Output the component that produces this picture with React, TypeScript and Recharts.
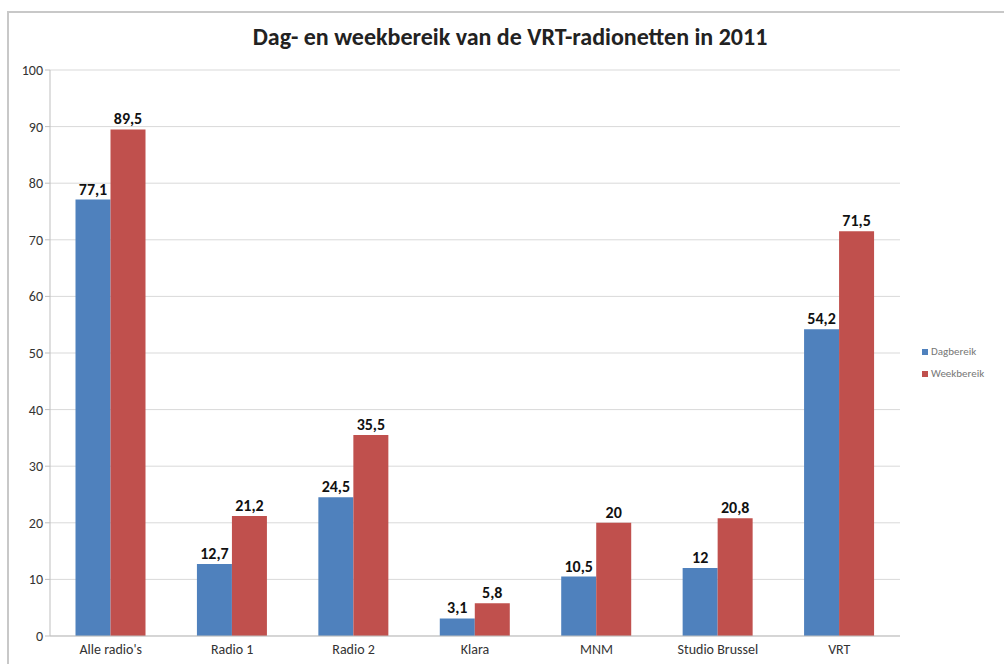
import { Bar, BarChart, CartesianGrid, LabelList, XAxis, YAxis } from 'recharts';

const categories = ["Alle radio's", 'Radio 1', 'Radio 2', 'Klara', 'MNM', 'Studio Brussel', 'VRT'];
const dagbereik = [77.1, 12.7, 24.5, 3.1, 10.5, 12, 54.2];
const weekbereik = [89.5, 21.2, 35.5, 5.8, 20, 20.8, 71.5];
const yTicks = [0, 10, 20, 30, 40, 50, 60, 70, 80, 90, 100];

const data = categories.map((name, i) => ({ name, dag: dagbereik[i], week: weekbereik[i] }));

const fmt = (v: unknown) => String(v).replace('.', ',');

const font = 'Carlito, "Open Sans", "Noto Sans", sans-serif';

const series = [
  { key: 'dag', name: 'Dagbereik', color: '#4f81bd' },
  { key: 'week', name: 'Weekbereik', color: '#c0504d' },
];

export default function App() {
  return (
    <div style={{ position: 'absolute', left: 0, top: 0, width: 1004, height: 664, background: '#fff', fontFamily: font }}>
      <div
        style={{
          position: 'absolute',
          left: 7,
          top: 11,
          right: 0,
          bottom: 0,
          borderLeft: '2px solid #c8c8c8',
          borderTop: '2px solid #c8c8c8',
        }}
      />
      <div
        style={{
          position: 'absolute',
          left: 0,
          width: 1020,
          top: 22,
          textAlign: 'center',
          fontSize: 24,
          fontWeight: 700,
          color: '#222',
        }}
      >
        Dag- en weekbereik van de VRT-radionetten in 2011
      </div>
      <BarChart
        width={1004}
        height={664}
        data={data}
        barCategoryGap="21%"
        barGap={0}
        margin={{ top: 70, right: 104, left: 10, bottom: 0 }}
        style={{ position: 'absolute', left: 0, top: 0 }}
      >
        <CartesianGrid vertical={false} stroke="#d9d9d9" />
        <XAxis
          dataKey="name"
          height={28}
          stroke="#bfbfbf"
          tickLine={false}
          tick={{ fontSize: 14, fill: '#333', fontFamily: font }}
          interval={0}
        />
        <YAxis
          width={40}
          domain={[0, 100]}
          ticks={yTicks}
          stroke="#bfbfbf"
          tickSize={5}
          tick={{ fontSize: 14, fill: '#333', fontFamily: font }}
        />
        {series.map((s) => (
          <Bar key={s.key} dataKey={s.key} name={s.name} fill={s.color} isAnimationActive={false}>
            <LabelList
              dataKey={s.key}
              position="top"
              formatter={fmt}
              style={{ fontSize: 16, fontWeight: 700, fill: '#111', fontFamily: font }}
            />
          </Bar>
        ))}
      </BarChart>
      <div style={{ position: 'absolute', left: 922, top: 341, fontSize: 11, color: '#777', lineHeight: '22px' }}>
        {series.map((s) => (
          <div key={s.key} style={{ display: 'flex', alignItems: 'center' }}>
            <span style={{ display: 'inline-block', width: 6, height: 6, background: s.color, marginRight: 3 }} />
            {s.name}
          </div>
        ))}
      </div>
    </div>
  );
}
